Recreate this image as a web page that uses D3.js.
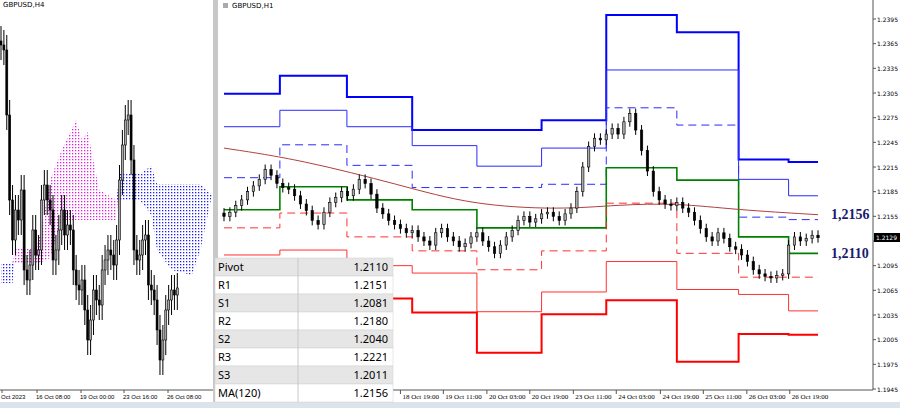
<!DOCTYPE html>
<html><head><meta charset="utf-8">
<script src="https://cdn.jsdelivr.net/npm/d3@7"></script>
<style>body{margin:0;background:#fff}</style>
</head><body><svg id="c" width="900" height="408" font-family="Tahoma,DejaVu Sans,sans-serif"></svg>
<script>
// ---- data: H1 chart (right) ----
const closesH1 = [1.2155,1.2160,1.2168,1.2175,1.2185,1.2192,1.2200, 1.2212,1.2205,1.2195,1.2190,1.2188,
  1.2180,1.2170,1.2162,1.2150,1.2145, 1.2160,1.2172,1.2178,1.2185, 1.2180,1.2188,1.2200,1.2195,
  1.2182,1.2165,1.2158,1.2150, 1.2145,1.2140,1.2135,1.2138,1.2130,1.2125, 1.2120,1.2135,1.2140,1.2130,1.2125,1.2118,1.2122,
  1.2130,1.2135,1.2125,1.2118,1.2110,1.2120,1.2130, 1.2138,1.2150,1.2155,1.2148,1.2152,
  1.2158,1.2160,1.2155,1.2150,1.2158,1.2165, 1.2185,1.2215,1.2240,1.2250, 1.2248,1.2255,1.2262,1.2255,1.2270,1.2280,
  1.2260,1.2235,1.2210,1.2185,1.2175,1.2170, 1.2168,1.2172,1.2165,1.2160,1.2150,
  1.2140,1.2130,1.2125,1.2135,1.2128,1.2118,1.2115, 1.2108,1.2100,1.2090,1.2085,1.2082,1.2080,1.2083,
  1.2085,1.2120,1.2130,1.2125,1.2128,1.2132,1.2129];
const segStart = [0, 9.5, 20.9, 32, 43, 54, 65, 77, 87.5, 96];
const segEnd = 101;
const R3 = [1.2304,1.2326,1.2300,1.2260,1.2260,1.2272,1.2400,1.2379,1.2224,1.2221];
const R2 = [1.2264,1.2284,1.2264,1.2241,1.2216,1.2238,1.2333,1.2333,1.2200,1.2180];
const R1 = [1.2202,1.2242,1.2217,1.2190,1.2190,1.2194,1.2287,1.2266,1.2154,1.2151];
const PV = [1.2163,1.2191,1.2175,1.2163,1.2141,1.2141,1.2214,1.2199,1.2130,1.2110];
const S1 = [1.2141,1.2159,1.2130,1.2113,1.2090,1.2113,1.2171,1.2110,1.2081,1.2081];
const S2 = [1.2108,1.2114,1.2095,1.2086,1.2039,1.2063,1.2100,1.2066,1.2060,1.2040];
const S3 = [1.2072,1.2078,1.2055,1.2038,1.1989,1.2036,1.2053,1.1978,1.2012,1.2011];
const maIdx = [0, 13, 30, 42, 57, 67, 77, 87, 101];
const maVal = [1.2238,1.2224,1.2193,1.2169,1.2163,1.2169,1.2171,1.2163,1.2157];
const priceTicks = [1.2395,1.2365,1.2335,1.2305,1.2275,1.2245,1.2215,1.2185,1.2155,1.2125,1.2095,1.2065,1.2035,1.2005,1.1975,1.1945];
const timeLabels = ["18 Oct 19:00","19 Oct 11:00","20 Oct 03:00","20 Oct 19:00","23 Oct 11:00","24 Oct 03:00","24 Oct 19:00","25 Oct 11:00","26 Oct 03:00","26 Oct 19:00"];
const timeIdx = [30, 37.3, 44.7, 52, 59.4, 66.7, 74.2, 81.5, 88.9, 96.2];
const tableNames = ["Pivot","R1","S1","R2","S2","R3","S3","MA(120)"];
const tableVals = ["1.2110","1.2151","1.2081","1.2180","1.2040","1.2221","1.2011","1.2156"];

// ---- data: H4 chart (left) ----
const closesH4 = [1.2335,1.2330,1.2265,1.2180,1.2140,1.2170,1.2160,1.2190,1.2110,1.2100,1.2115,1.2150,1.2125,1.2130,
  1.2180,1.2195,1.2180,1.2170,1.2120,1.2130,1.2150,1.2170,1.2145,1.2155,1.2150,1.2110,1.2095,1.2090,1.2100,1.2070,
  1.2040,1.2060,1.2090,1.2080,1.2075,1.2110,1.2120,1.2130,1.2125,1.2115,1.2140,1.2200,1.2235,1.2260,1.2265,1.2220,
  1.2130,1.2120,1.2125,1.2140,1.2145,1.2095,1.2090,1.2080,1.2050,1.2020,1.2040,1.2070,1.2080,1.2090,1.2085,1.2092];
const cloudIdx = [0, 4, 5, 12, 14, 17, 21, 26, 28, 30, 34, 40, 41, 48, 52, 54, 59, 66, 69, 73];
const spanA = [1.2097,1.2097,1.2132,1.2132,1.2150,1.2200,1.2230,1.2260,1.2240,1.2248,1.2190,1.2180,1.2180,1.2180,1.2165,1.2130,1.2110,1.2105,1.2130,1.2185];
const spanB = [1.2117,1.2117,1.2117,1.2117,1.2118,1.2122,1.2160,1.2160,1.2160,1.2160,1.2160,1.2160,1.2206,1.2206,1.2214,1.2196,1.2196,1.2196,1.2196,1.2185];
const h4Labels = ["Oct 2023","16 Oct 08:00","19 Oct 00:00","23 Oct 16:00","26 Oct 08:00"];
const h4LabelX = [1, 36, 80, 123, 167];

const svg = d3.select("#c");

// ---------- left H4 panel ----------
const xL = d3.scaleLinear().domain([0, 73]).range([1, 212]);
const yL = d3.scaleLinear().domain([1.2000, 1.2360]).range([380, 20]);
const defs = svg.append("defs");
[["dotM","#e020e0"],["dotB","#2020f0"]].forEach(([id,c]) => {
  const p = defs.append("pattern").attr("id", id).attr("width", 3).attr("height", 3).attr("patternUnits", "userSpaceOnUse");
  p.append("rect").attr("width", 1.3).attr("height", 1.3).attr("fill", c);
});
const cloud = cloudIdx.map((i, k) => ({ i, a: spanA[k], b: spanB[k] }));
svg.append("path").datum(cloud)
  .attr("d", d3.area().x(d => xL(d.i)).y0(d => yL(d.b)).y1(d => yL(Math.max(d.a, d.b))))
  .attr("fill", "url(#dotM)");
svg.append("path").datum(cloud)
  .attr("d", d3.area().x(d => xL(d.i)).y0(d => yL(d.a)).y1(d => yL(Math.max(d.a, d.b))))
  .attr("fill", "url(#dotB)");

function drawCandles(closes, x, y, w, wick) {
  closes.forEach((c, i) => {
    const o = i ? closes[i - 1] : c + 0.0004;
    const hi = Math.max(o, c) + wick, lo = Math.min(o, c) - wick;
    svg.append("line").attr("x1", x(i)).attr("x2", x(i)).attr("y1", y(hi)).attr("y2", y(lo)).attr("stroke", "#000");
    svg.append("rect").attr("x", x(i) - w / 2).attr("width", w)
      .attr("y", y(Math.max(o, c))).attr("height", Math.max(1, Math.abs(y(o) - y(c))))
      .attr("fill", c >= o ? "#aaa" : "#000").attr("stroke", "#000").attr("stroke-width", 0.6);
  });
}
drawCandles(closesH4, xL, yL, 2, 0.0015);

svg.append("text").attr("x", 3).attr("y", 7).attr("font-size", 7).text("GBPUSD,H4");
svg.append("line").attr("x1", 0).attr("x2", 213).attr("y1", 390).attr("y2", 390).attr("stroke", "#555");
h4Labels.forEach((t, k) => {
  svg.append("line").attr("x1", h4LabelX[k] + 1).attr("x2", h4LabelX[k] + 1).attr("y1", 390).attr("y2", 393).attr("stroke", "#555");
  svg.append("text").attr("x", h4LabelX[k]).attr("y", 399).attr("font-size", 6)
    .attr("font-family", "Liberation Sans,sans-serif").text(t);
});
svg.append("rect").attr("x", 213).attr("y", 0).attr("width", 5).attr("height", 408).attr("fill", "#c8c8c8");
svg.append("rect").attr("x", 0).attr("y", 402).attr("width", 900).attr("height", 6).attr("fill", "#dde3ea");

// ---------- right H1 panel ----------
const x = d3.scaleLinear().domain([0, 101]).range([224, 818]);
const y = d3.scaleLinear().domain([1.1945, 1.2395]).range([389, 19]);

function levelLine(vals, color, width, dash) {
  const pts = segStart.map((s, k) => [s, vals[k]]).concat([[segEnd, vals[vals.length - 1]]]);
  svg.append("path").datum(pts)
    .attr("d", d3.line().x(d => x(d[0])).y(d => y(d[1])).curve(d3.curveStepAfter))
    .attr("fill", "none").attr("stroke", color).attr("stroke-width", width)
    .attr("stroke-dasharray", dash || null);
}
levelLine(R3, "#0000ff", 2);
levelLine(R2, "#2a2aff", 1);
levelLine(R1, "#2a2aff", 1, "8,5");
levelLine(PV, "#008000", 1.6);
levelLine(S1, "#ff3030", 1, "8,5");
levelLine(S2, "#ff3030", 1);
levelLine(S3, "#ff0000", 2);

svg.append("path").datum(maIdx.map((i, k) => [i, maVal[k]]))
  .attr("d", d3.line().x(d => x(d[0])).y(d => y(d[1])).curve(d3.curveBasis))
  .attr("fill", "none").attr("stroke", "#b04040").attr("stroke-width", 1);

drawCandles(closesH1, x, y, 2.4, 0.0006);

svg.append("text").attr("x", 232).attr("y", 8).attr("font-size", 7).text("GBPUSD,H1");
svg.append("rect").attr("x", 223).attr("y", 3).attr("width", 5).attr("height", 5).attr("fill", "#aaa");

// axes
const last = closesH1[closesH1.length - 1];
svg.append("line").attr("x1", 873).attr("x2", 873).attr("y1", 0).attr("y2", 390).attr("stroke", "#555");
svg.append("line").attr("x1", 218).attr("x2", 873).attr("y1", 390).attr("y2", 390).attr("stroke", "#555");
priceTicks.forEach(p => {
  svg.append("line").attr("x1", 873).attr("x2", 876).attr("y1", y(p)).attr("y2", y(p)).attr("stroke", "#555");
  if (Math.abs(y(p) - y(last)) > 7)
    svg.append("text").attr("x", 877).attr("y", y(p) + 2.5).attr("font-size", 6).text(p.toFixed(4));
});
timeLabels.forEach((t, k) => {
  svg.append("line").attr("x1", x(timeIdx[k])).attr("x2", x(timeIdx[k])).attr("y1", 390).attr("y2", 394).attr("stroke", "#555");
  svg.append("text").attr("x", x(timeIdx[k]) + 2).attr("y", 399).attr("font-size", 7)
    .attr("font-family", "Liberation Serif,serif").text(t);
});
svg.append("rect").attr("x", 874).attr("y", 233).attr("width", 26).attr("height", 9).attr("fill", "#000");
svg.append("text").attr("x", 876).attr("y", 240).attr("font-size", 6).attr("fill", "#fff").text(last.toFixed(4));

svg.append("text").attr("x", 831).attr("y", 219).attr("font-size", 14).attr("font-weight", "bold")
  .attr("font-family", "Liberation Serif,serif").attr("fill", "#1a1a6e").text("1,2156");
svg.append("text").attr("x", 831).attr("y", 258).attr("font-size", 14).attr("font-weight", "bold")
  .attr("font-family", "Liberation Serif,serif").attr("fill", "#1a1a6e").text("1,2110");

// table
const tab = svg.append("g");
tableNames.forEach((n, k) => {
  const ty = 258 + k * 18;
  tab.append("rect").attr("x", 215).attr("y", ty).attr("width", 178).attr("height", 18)
    .attr("fill", k % 2 ? "#ffffff" : "#e6e6e6").attr("stroke", "#d0d0d0").attr("stroke-width", 0.5);
  tab.append("text").attr("x", 218).attr("y", ty + 13).attr("font-size", 11).attr("font-family", "Noto Sans,sans-serif").text(n);
  tab.append("text").attr("x", 388).attr("y", ty + 13).attr("font-size", 11).attr("text-anchor", "end")
    .attr("font-family", "Noto Sans,sans-serif").text(tableVals[k]);
});
tab.append("line").attr("x1", 298).attr("x2", 298).attr("y1", 258).attr("y2", 402).attr("stroke", "#c8c8c8");
</script></body></html>
